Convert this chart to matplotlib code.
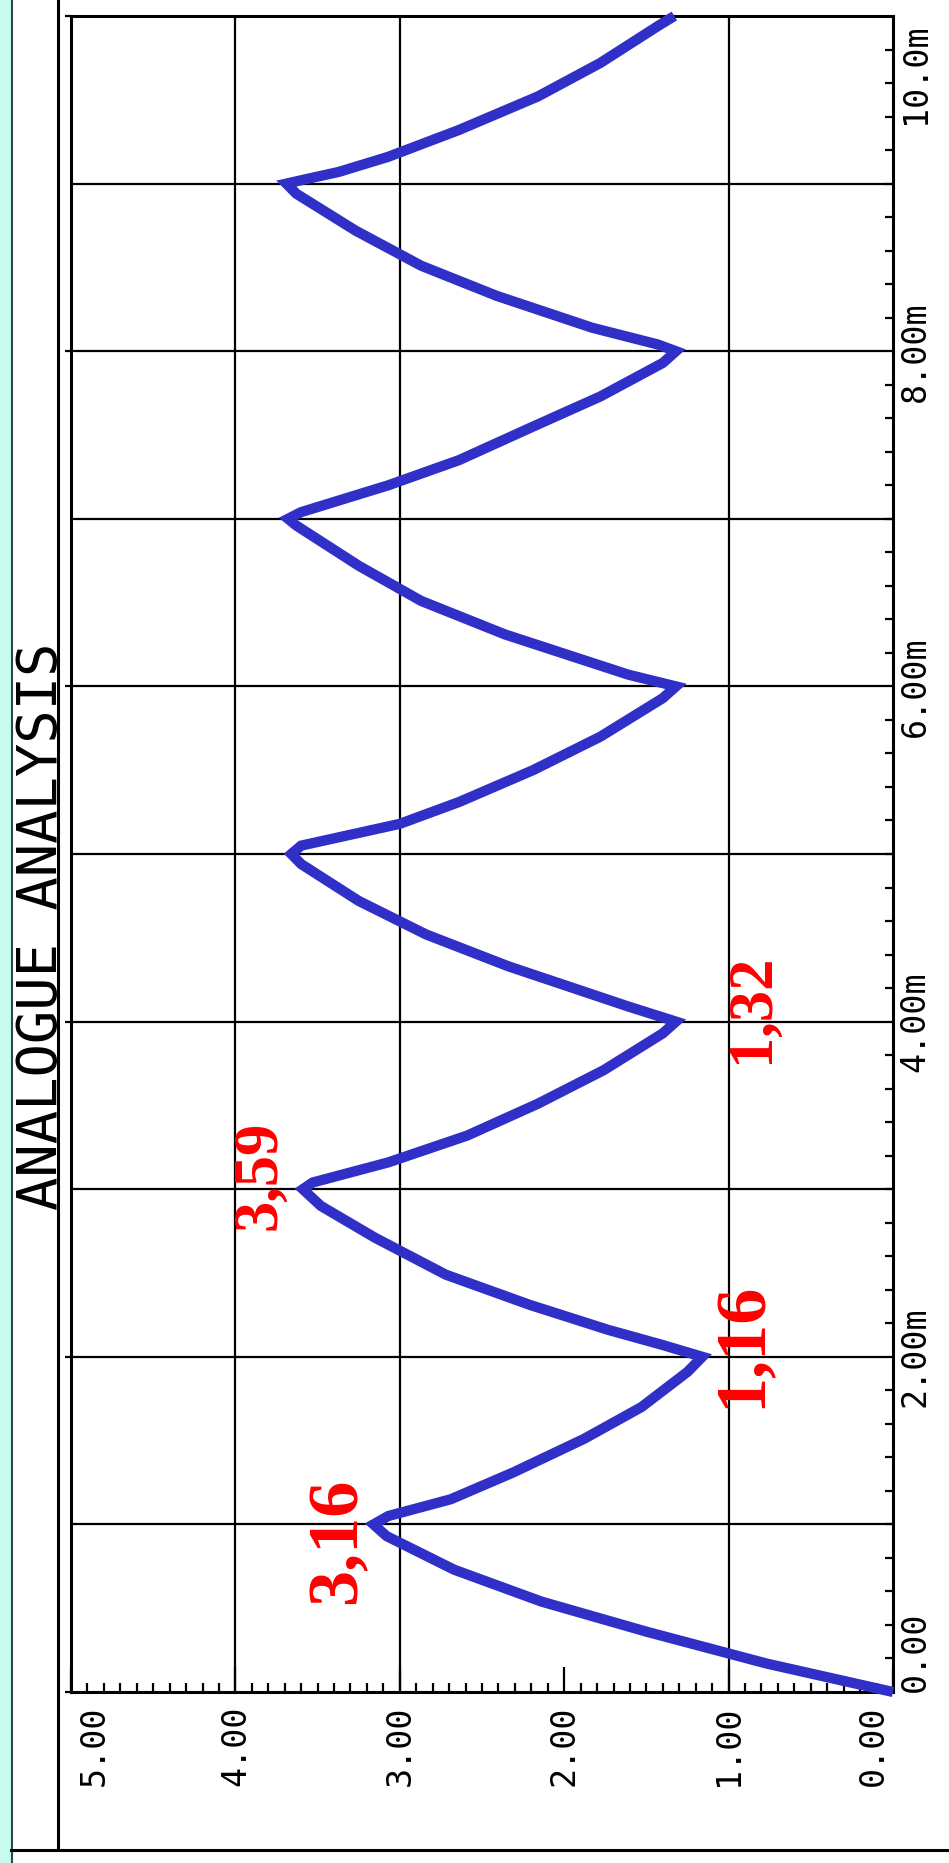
import numpy as np
import matplotlib
matplotlib.use('Agg')
import matplotlib.pyplot as plt
import matplotlib.transforms as mtransforms
from matplotlib.lines import Line2D
from matplotlib.patches import Rectangle
from matplotlib.ticker import MultipleLocator

# transient trace, time in ms, voltage in V
t_ms = [0.00, 0.17, 0.36, 0.54, 0.73, 0.93, 1.00,
        1.05, 1.15, 1.31, 1.51, 1.70, 1.91, 2.00,
        2.07, 2.16, 2.31, 2.49, 2.71, 2.90, 3.00,
        3.04, 3.16, 3.32, 3.51, 3.71, 3.93, 4.00,
        4.09, 4.33, 4.52, 4.72, 4.94, 5.00,
        5.05, 5.18, 5.31, 5.50, 5.70, 5.93, 6.00,
        6.07, 6.31, 6.51, 6.72, 6.96, 7.00,
        7.04, 7.20, 7.35, 7.55, 7.73, 7.93, 8.00,
        8.04, 8.14, 8.33, 8.51, 8.72, 8.94, 9.00,
        9.02, 9.07, 9.16, 9.32, 9.52, 9.72, 9.94, 10.00]
volts = [0.00, 0.77, 1.50, 2.14, 2.67, 3.08, 3.16,
         3.07, 2.69, 2.31, 1.88, 1.53, 1.25, 1.16,
         1.40, 1.73, 2.21, 2.72, 3.15, 3.48, 3.59,
         3.53, 3.07, 2.59, 2.16, 1.76, 1.40, 1.32,
         1.61, 2.34, 2.84, 3.25, 3.60, 3.66,
         3.60, 3.00, 2.64, 2.19, 1.78, 1.40, 1.32,
         1.61, 2.36, 2.87, 3.25, 3.63, 3.68,
         3.60, 3.07, 2.64, 2.19, 1.78, 1.40, 1.32,
         1.43, 1.83, 2.41, 2.87, 3.27, 3.63, 3.69,
         3.60, 3.37, 3.07, 2.64, 2.16, 1.78, 1.43, 1.33]

volt_ticks = [5, 4, 3, 2, 1, 0]
volt_labels = ['5.00', '4.00', '3.00', '2.00', '1.00', '0.00']
volt_grid = [1, 3, 4]
time_ticks = [0, 2, 4, 6, 8, 10]
time_labels = ['0.00', '2.00m', '4.00m', '6.00m', '8.00m', '10.0m']
time_grid = [1, 2, 3, 4, 5, 6, 7, 8, 9]

marks = ['3,16', '1,16', '3,59', '1,32']
mark_v = [3.38, 0.91, 3.85, 0.85]
mark_t = [0.90, 2.07, 3.08, 4.08]
mark_size = [52, 52, 45, 45]

W, H = 949, 1863
fig = plt.figure(figsize=(W/100, H/100), dpi=100)

def fx(px):
    return px/W

def fy(py):
    return 1 - py/H

# page decorations
fig.patches.append(Rectangle((0, 0), fx(11), 1, transform=fig.transFigure,
                             color='#C8FAF0', zorder=0))
fig.add_artist(Line2D([fx(11.5)]*2, [0, 1], color='#2A4A44', lw=1.5))
fig.add_artist(Line2D([fx(58)]*2, [fy(0), fy(1850)], color='k', lw=2.2))
fig.add_artist(Line2D([fx(11), 1], [fy(1850)]*2, color='k', lw=2.2))

fig.text(fx(42), fy(926), 'ANALOGUE ANALYSIS', rotation=90, ha='center',
         va='center', fontfamily='DejaVu Sans Mono', fontsize=40)

ax = fig.add_axes([fx(71), fy(1692), fx(893)-fx(71), fy(16)-fy(1692)])
ax.set_xlim(5, 0)
ax.set_ylim(0, 10)
for s in ax.spines.values():
    s.set_linewidth(2.2)

for v in volt_grid:
    ax.axvline(v, color='k', lw=1.6, zorder=1)
for t in time_grid:
    ax.axhline(t, color='k', lw=1.6, zorder=1)

ax.plot(volts, t_ms, color='#3030C8', lw=7.4, solid_joinstyle='miter',
        solid_capstyle='butt', clip_on=False, zorder=5)

ax.xaxis.set_major_locator(MultipleLocator(1))
ax.xaxis.set_minor_locator(MultipleLocator(0.1))
ax.yaxis.set_major_locator(MultipleLocator(2))
ax.yaxis.set_minor_locator(MultipleLocator(0.2))
ax.tick_params(axis='x', which='major', direction='in', length=18, width=1.6,
               top=False, labelbottom=False)
ax.tick_params(axis='x', which='minor', direction='in', length=6.5, width=1.6,
               top=False)
ax.tick_params(axis='y', which='major', direction='out', length=4.5, width=1.6,
               left=True, right=False, labelleft=False)
ax.tick_params(axis='y', which='minor', direction='in', length=6, width=1.6,
               left=False, right=True)

# axis labels drawn as rotated text
xblend = mtransforms.blended_transform_factory(ax.transData, ax.transAxes)
for v, lab in zip(volt_ticks, volt_labels):
    ha, dx = 'center', 0
    if v == 5:
        ha, dx = 'left', 5
    elif v == 0:
        ha, dx = 'right', -2
    tr = mtransforms.offset_copy(xblend, fig=fig, x=dx, y=-10, units='points')
    ax.text(v, 0, lab, transform=tr, rotation=90, ha=ha, va='top',
            fontfamily='DejaVu Sans Mono', fontsize=24)

yblend = mtransforms.blended_transform_factory(ax.transAxes, ax.transData)
for t, lab in zip(time_ticks, time_labels):
    va, dy = 'center', 0
    if t == 0:
        va = 'bottom'
    elif t == 10:
        va, dy = 'top', -5
    tr = mtransforms.offset_copy(yblend, fig=fig, x=4, y=dy, units='points')
    ax.text(1, t, lab, transform=tr, rotation=90, ha='left', va=va,
            fontfamily='DejaVu Sans Mono', fontsize=24)

for lab, v, t, fs in zip(marks, mark_v, mark_t, mark_size):
    ax.text(v, t, lab, rotation=90, ha='center', va='center', color='#FF0000',
            fontfamily='Liberation Serif', fontweight='bold', fontsize=fs,
            zorder=6)

fig.savefig('out.png', dpi=100)
